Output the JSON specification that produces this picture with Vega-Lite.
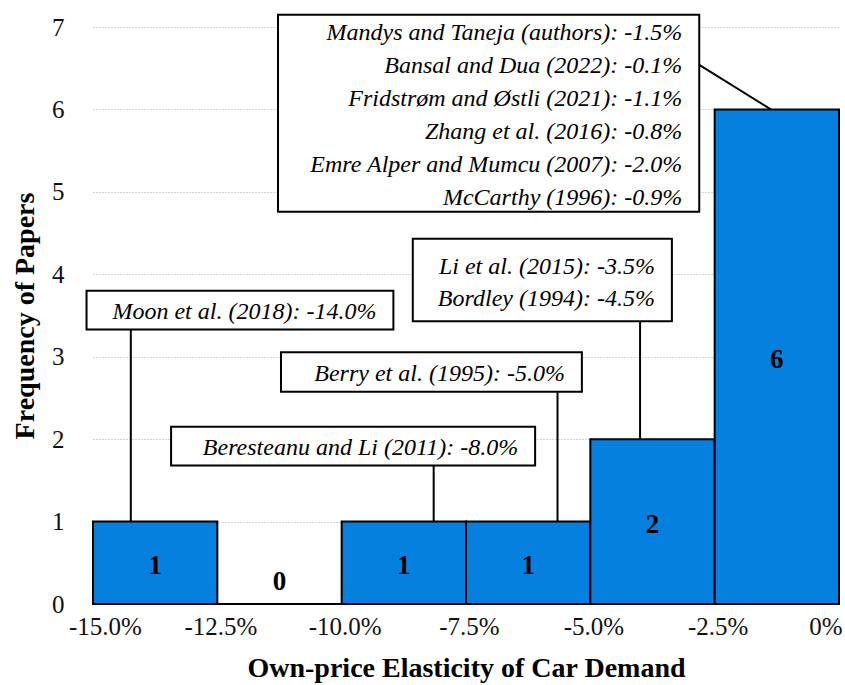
{
  "$schema": "https://vega.github.io/schema/vega-lite/v6.json",
  "width": 746,
  "height": 577,
  "autosize": {"type": "none"},
  "padding": {"left": 93, "top": 27, "right": 6, "bottom": 81},
  "background": "white",
  "config": {"view": {"stroke": null}, "font": "'Liberation Serif', 'DejaVu Serif', serif"},
  "datasets": {
    "bins": [
      {"bin_start": -15, "bin_end": -12.5, "count": 1},
      {"bin_start": -12.5, "bin_end": -10, "count": 0},
      {"bin_start": -10, "bin_end": -7.5, "count": 1},
      {"bin_start": -7.5, "bin_end": -5, "count": 1},
      {"bin_start": -5, "bin_end": -2.5, "count": 2},
      {"bin_start": -2.5, "bin_end": 0, "count": 6}
    ],
    "notes": [
      {"id": "moon", "lines": 1, "text": "Moon et al. (2018): -14.0%", "left": -15.13, "right": -8.96, "top": 3.80, "bottom": 3.33, "ax": -14.24, "ay": 1, "bx": -14.24, "by": 3.33},
      {"id": "beresteanu", "lines": 1, "text": "Beresteanu and Li (2011): -8.0%", "left": -13.43, "right": -6.11, "top": 2.15, "bottom": 1.68, "ax": -8.15, "ay": 1, "bx": -8.15, "by": 1.68},
      {"id": "berry", "lines": 1, "text": "Berry et al. (1995): -5.0%", "left": -11.22, "right": -5.17, "top": 3.055, "bottom": 2.576, "ax": -5.66, "ay": 1, "bx": -5.66, "by": 2.576},
      {"id": "li", "lines": 2, "text": "Li et al. (2015): -3.5%\nBordley (1994): -4.5%", "left": -8.57, "right": -3.36, "top": 4.43, "bottom": 3.43, "ax": -4.0, "ay": 2, "bx": -4.0, "by": 3.43},
      {"id": "big", "lines": 6, "text": "Mandys and Taneja (authors): -1.5%\nBansal and Dua (2022): -0.1%\nFridstrøm and Østli (2021): -1.1%\nZhang et al. (2016): -0.8%\nEmre Alper and Mumcu (2007): -2.0%\nMcCarthy (1996): -0.9%", "left": -11.28, "right": -2.81, "top": 7.15, "bottom": 4.76, "ax": -1.37, "ay": 6, "bx": -2.81, "by": 6.54}
    ]
  },
  "layer": [
    {
      "data": {"name": "bins"},
      "mark": {"type": "rect", "fill": "#0580de", "stroke": "black", "strokeWidth": 2},
      "encoding": {
        "x": {
          "field": "bin_start",
          "type": "quantitative",
          "scale": {"domain": [-15, 0], "nice": false, "zero": false},
          "axis": {
            "title": "Own-price Elasticity of Car Demand",
            "values": [-15, -12.5, -10, -7.5, -5, -2.5, 0],
            "labelExpr": "datum.value == 0 ? '0%' : '-' + format(-datum.value, '.1f') + '%'",
            "domain": false,
            "ticks": false,
            "grid": false,
            "labelFontSize": 25,
            "labelColor": "#111",
            "labelPadding": 10,
            "labelFlush": false,
            "labelOverlap": false,
            "labelAlign": {"condition": {"test": "datum.value == 0", "value": "right"}, "value": "center"},
            "labelOffset": {"condition": {"test": "datum.value == -15", "value": 12}, "value": 3},
            "titleFontSize": 28,
            "titleFontWeight": "bold",
            "titleColor": "black",
            "titlePadding": 15
          }
        },
        "x2": {"field": "bin_end"},
        "y": {
          "field": "count",
          "type": "quantitative",
          "scale": {"domain": [0, 7], "nice": false},
          "axis": {
            "title": "Frequency of Papers",
            "values": [0, 1, 2, 3, 4, 5, 6, 7],
            "format": "d",
            "domain": false,
            "ticks": false,
            "grid": true,
            "gridDash": [1, 2],
            "gridColor": "#aaaaaa",
            "gridWidth": 1,
            "labelFontSize": 25,
            "labelColor": "#111",
            "labelPadding": 29,
            "titleFontSize": 28,
            "titleFontWeight": "bold",
            "titleColor": "black",
            "titlePadding": 12
          }
        },
        "y2": {"datum": 0}
      }
    },
    {
      "data": {"name": "bins"},
      "transform": [
        {"calculate": "(datum.bin_start + datum.bin_end) / 2", "as": "mid"},
        {"calculate": "datum.count > 0 ? datum.count / 2 : 0.3", "as": "labelY"}
      ],
      "mark": {"type": "text", "fontSize": 27, "fontWeight": "bold", "color": "black", "baseline": "middle", "dy": 3},
      "encoding": {
        "x": {"field": "mid", "type": "quantitative"},
        "y": {"field": "labelY", "type": "quantitative"},
        "text": {"field": "count", "type": "quantitative"}
      }
    },
    {
      "data": {"name": "notes"},
      "mark": {"type": "rule", "stroke": "black", "strokeWidth": 2},
      "encoding": {
        "x": {"field": "ax", "type": "quantitative"},
        "y": {"field": "ay", "type": "quantitative"},
        "x2": {"field": "bx"},
        "y2": {"field": "by"}
      }
    },
    {
      "data": {"name": "notes"},
      "mark": {"type": "rect", "fill": "white", "stroke": "black", "strokeWidth": 2},
      "encoding": {
        "x": {"field": "left", "type": "quantitative"},
        "x2": {"field": "right"},
        "y": {"field": "top", "type": "quantitative"},
        "y2": {"field": "bottom"}
      }
    },
    {
      "data": {"name": "notes"},
      "transform": [
        {"filter": "datum.lines == 1"},
        {"calculate": "(datum.top + datum.bottom) / 2", "as": "ym"}
      ],
      "mark": {"type": "text", "fontSize": 24, "fontStyle": "italic", "color": "black", "align": "right", "baseline": "middle", "dx": -17, "dy": 2},
      "encoding": {
        "x": {"field": "right", "type": "quantitative"},
        "y": {"field": "ym", "type": "quantitative"},
        "text": {"field": "text", "type": "nominal"}
      }
    },
    {
      "data": {"name": "notes"},
      "transform": [
        {"filter": "datum.lines == 2"},
        {"calculate": "(datum.top + datum.bottom) / 2", "as": "ym"}
      ],
      "mark": {"type": "text", "fontSize": 24, "fontStyle": "italic", "color": "black", "align": "right", "baseline": "middle", "dx": -17, "dy": -13, "lineBreak": "\n", "lineHeight": 32},
      "encoding": {
        "x": {"field": "right", "type": "quantitative"},
        "y": {"field": "ym", "type": "quantitative"},
        "text": {"field": "text", "type": "nominal"}
      }
    },
    {
      "data": {"name": "notes"},
      "transform": [
        {"filter": "datum.lines == 6"},
        {"calculate": "(datum.top + datum.bottom) / 2", "as": "ym"}
      ],
      "mark": {"type": "text", "fontSize": 24, "fontStyle": "italic", "color": "black", "align": "right", "baseline": "middle", "dx": -17, "dy": -80, "lineBreak": "\n", "lineHeight": 33},
      "encoding": {
        "x": {"field": "right", "type": "quantitative"},
        "y": {"field": "ym", "type": "quantitative"},
        "text": {"field": "text", "type": "nominal"}
      }
    }
  ]
}
